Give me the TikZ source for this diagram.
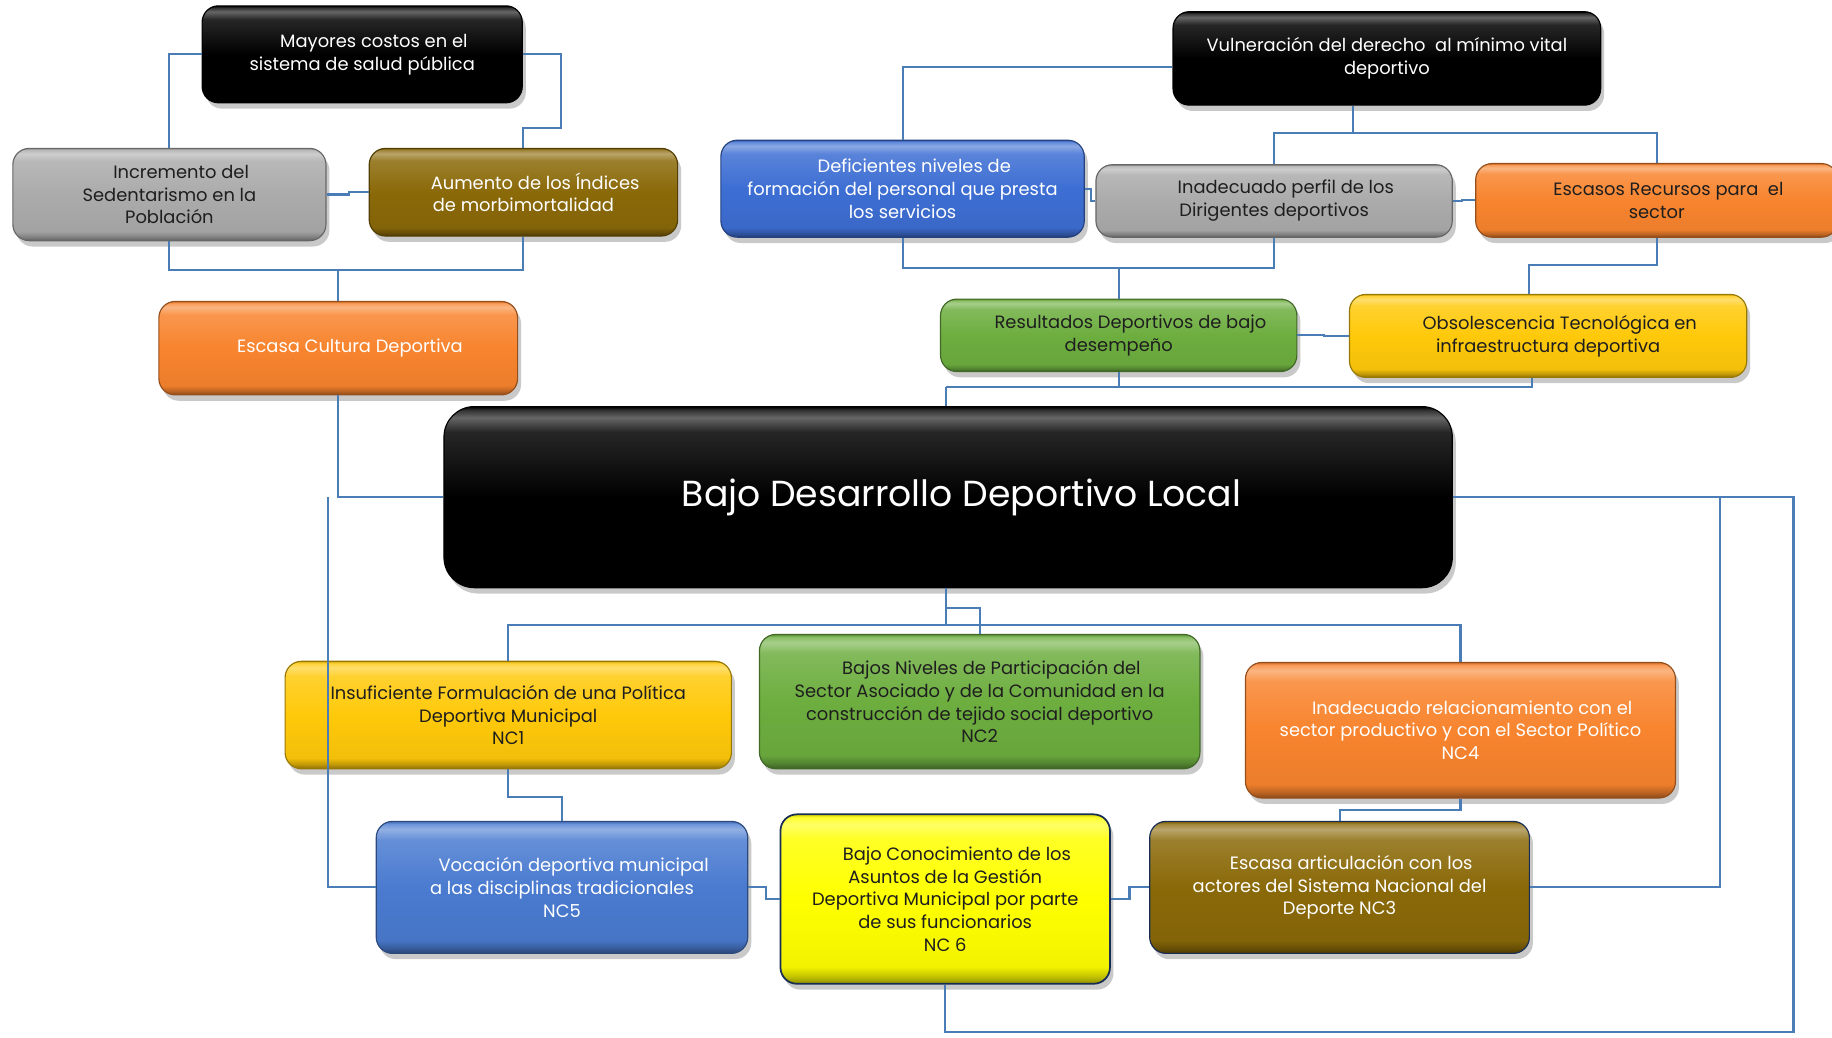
\documentclass[tikz,border=0pt]{standalone}
\usepackage{fontspec}
\setmainfont{Poppins}
\usetikzlibrary{shadows,calc}
\definecolor{cgray}{HTML}{ABABAB}
\definecolor{colive}{HTML}{8A6908}
\definecolor{corange}{HTML}{F8842E}
\definecolor{cblue}{HTML}{3D6ED3}
\definecolor{cblue2}{HTML}{4A7BD0}
\definecolor{cgreen}{HTML}{6DAE3F}
\definecolor{cgold}{HTML}{FFC90A}
\definecolor{cyellow}{HTML}{FFFF00}
\definecolor{cline}{HTML}{4A7CB5}
\definecolor{ctext}{HTML}{1E1E1E}
\colorlet{glbase}{gray}
\pgfdeclareverticalshading[glbase]{gloss}{100bp}{%
  color(0bp)=(glbase!55!black);
  color(25bp)=(glbase!55!black);
  color(27bp)=(glbase!75!black);
  color(30bp)=(glbase!95!black);
  color(50bp)=(glbase);
  color(68bp)=(glbase!85!white);
  color(72bp)=(glbase!60!white);
  color(74bp)=(glbase!80!white);
  color(75bp)=(glbase!85!black);
  color(100bp)=(glbase!85!black)}
\tikzset{
  bx/.style={rounded corners=14pt, align=center, inner sep=2pt,
    font=\fontsize{15.3}{19.5}\selectfont,
    drop shadow={shadow xshift=3pt, shadow yshift=-5pt, opacity=0.3, fill=black!70}},
  glossy/.style={/utils/exec={\colorlet{glbase}{#1}}, shading=gloss, draw=#1!60!black, line width=1pt},
  conn/.style={draw=cline, line width=1.8pt},
}
\begin{document}
\begin{tikzpicture}[x=1pt,y=-1pt]
\useasboundingbox (0,0) rectangle (1568,888);
% ---------- top left ----------
\node[bx, glossy=black, text=white, minimum width=274pt, minimum height=83pt] (may) at (310,46.5) {\hspace*{20pt}Mayores costos en el\\sistema de salud pública};
\node[bx, glossy=cgray, text=ctext, minimum width=268pt, minimum height=79pt] (inc) at (145,166.5) {\hspace*{20pt}Incremento del\\Sedentarismo en la\\Población};
\node[bx, glossy=colive, text=white, minimum width=264pt, minimum height=75pt] (aum) at (448,164.5) {\hspace*{20pt}Aumento de los Índices\\de morbimortalidad};
\node[bx, glossy=corange, text=white, minimum width=307pt, minimum height=80pt] (esc) at (289.5,298) {\hspace*{20pt}Escasa Cultura Deportiva};
% ---------- top right ----------
\node[bx, glossy=black, text=white, minimum width=366pt, minimum height=80pt] (vul) at (1187,50) {Vulneración del derecho\ \ al mínimo vital\\deportivo};
\node[bx, glossy=cblue, text=white, minimum width=311pt, minimum height=83pt] (def) at (772.5,161.5) {\hspace*{20pt}Deficientes niveles de\\formación del personal que presta\\los servicios};
\node[bx, glossy=cgray, text=ctext, minimum width=305pt, minimum height=62pt] (perf) at (1090.5,172) {\hspace*{20pt}Inadecuado perfil de los\\Dirigentes deportivos};
\node[bx, glossy=corange, text=ctext, minimum width=310pt, minimum height=63pt] (rec) at (1418,171.5) {\hspace*{20pt}Escasos Recursos para\ \ el\\sector};
\node[bx, glossy=cgreen, text=ctext, minimum width=305pt, minimum height=62pt] (res) at (957.5,287) {\hspace*{20pt}Resultados Deportivos de bajo\\desempeño};
\node[bx, glossy=cgold, text=ctext, minimum width=340pt, minimum height=71pt] (obs) at (1325,287.5) {\hspace*{20pt}Obsolescencia Tecnológica en\\infraestructura deportiva};
% ---------- centre ----------
\node[bx, glossy=black, rounded corners=26pt, text=white, minimum width=863pt, minimum height=155pt, font=\fontsize{31}{36}\selectfont] (bajo) at (811.5,425.5) {\hspace*{23pt}\raisebox{-5pt}{Bajo Desarrollo Deportivo Local}};
% ---------- bottom ----------
\node[bx, glossy=cgold, text=ctext, minimum width=382pt, minimum height=92pt] (ins) at (435,612) {Insuficiente Formulación de una Política\\Deportiva Municipal\\NC1};
\node[bx, glossy=cgreen, text=ctext, minimum width=377pt, minimum height=115pt] (niv) at (838.5,600.5) {\hspace*{20pt}Bajos Niveles de Participación del\\Sector Asociado y de la Comunidad en la\\construcción de tejido social deportivo\\NC2};
\node[bx, glossy=corange, text=white, minimum width=368pt, minimum height=116pt] (rel) at (1250,625) {\hspace*{20pt}Inadecuado relacionamiento con el\\sector productivo y con el Sector Político\\NC4};
\node[bx, glossy=cblue2, text=white, minimum width=318pt, minimum height=113pt] (voc) at (481,759.5) {\hspace*{20pt}Vocación deportiva municipal\\a las disciplinas tradicionales\\NC5};
\node[bx, glossy=cyellow, draw=cblue!40!black, line width=1.5pt, text=ctext, minimum width=282pt, minimum height=145pt] (con) at (809,769.5) {\hspace*{20pt}Bajo Conocimiento de los\\Asuntos de la Gestión\\Deportiva Municipal por parte\\de sus funcionarios\\NC 6};
\node[bx, glossy=colive, draw=cblue!40!black, text=white, minimum width=325pt, minimum height=113pt] (art) at (1146.5,759.5) {\hspace*{20pt}Escasa articulación con los\\actores del Sistema Nacional del\\Deporte NC3};
% ---------- connectors ----------
\coordinate (j1) at (289.5,231);
\coordinate (j2) at (1158,114);
\coordinate (j3) at (957.5,229);
\coordinate (j4) at (1309,227);
\coordinate (j5) at (810,331);
\coordinate (j6) at (810,535);
\coordinate (j7) at (810,520);
\coordinate (j8) at (1535,883);
\coordinate (j9) at (1472,759.5);
\coordinate (j10) at (281,425.5);
\draw[conn] (may.west) -| (inc.north);
\draw[conn] (may.east) -- ++(33,0) |- ([yshift=17pt]aum.north) -- (aum.north);
\draw[conn] (inc.east) -- ++(19,0) |- (aum.west);
\draw[conn] (inc.south) |- (j1) -| (aum.south);
\draw[conn] (j1) -- (esc.north);
\draw[conn] (esc.south) |- (bajo.west);
\draw[conn] (j10) |- (voc.west);
\draw[conn] ([yshift=-7pt]vul.west) -| (def.north);
\draw[conn] (vul.south -| j2) -- (j2);
\draw[conn] (perf.north) |- (j2) -| (rec.north);
\draw[conn] (def.east) -- ++(5,0) |- (perf.west);
\draw[conn] (perf.east) -- ++(8,0) |- (rec.west);
\draw[conn] (def.south) |- (j3) -| (perf.south);
\draw[conn] (j3) -- (res.north);
\draw[conn] (rec.south) |- (j4) -- (j4 |- obs.north);
\draw[conn] (res.east) -- ++(23,0) |- (obs.west);
\draw[conn] (res.south) -- (res.south |- j5);
\draw[conn] (j5) -| ([xshift=-14pt]obs.south);
\draw[conn] (j5) -- (j5 |- bajo.north);
\draw[conn] (j6 |- bajo.south) -- (j6);
\draw[conn] (ins.north) |- (j6) -| (rel.north);
\draw[conn] (j7) -| (niv.north);
\draw[conn] (bajo.east) -| (j8) -| (con.south);
\draw[conn] (bajo.east -| j9) -- (j9) -- (art.east);
\draw[conn] (ins.south) -- ++(0,24) -| (voc.north);
\draw[conn] (voc.east) -- ++(15,0) |- (con.west);
\draw[conn] (con.east) -- ++(16,0) |- (art.west);
\draw[conn] (rel.south) -- ++(0,10) -| (art.north);
\end{tikzpicture}
\end{document}
